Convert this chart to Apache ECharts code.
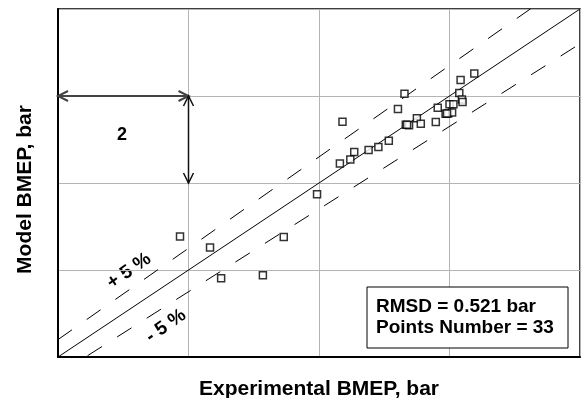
<!DOCTYPE html>
<html>
<head>
<meta charset="utf-8">
<script src="https://cdn.jsdelivr.net/npm/echarts@6/dist/echarts.min.js"></script>
<style>
  html, body { margin: 0; padding: 0; background: #fff; }
  #chart { width: 582px; height: 398px; }
</style>
</head>
<body>
<div id="chart"></div>
<script>
// measured vs modelled BMEP, bar
var expBmep = [14.38, 14.17, 14.15, 14.19, 14.20, 13.31, 13.21, 13.82, 14.00, 14.06, 13.94,
  13.98, 14.04, 13.79, 13.50, 13.56, 13.33, 13.38, 12.36, 13.07, 12.91, 12.76, 12.54,
  12.48, 12.32, 11.97, 9.87, 10.33, 10.50, 11.14, 11.46, 13.35, 13.96]
var modelBmep = [14.52, 14.37, 14.07, 13.92, 13.86, 14.05, 13.70, 13.73, 13.81, 13.81, 13.59,
  13.60, 13.62, 13.40, 13.49, 13.36, 13.34, 13.33, 13.41, 12.97, 12.83, 12.76, 12.71,
  12.54, 12.45, 11.74, 10.77, 10.52, 9.81, 9.88, 10.76, 13.34, 13.60]

var axisMin = 8
var axisMax = 16
var gridStep = 2
var tolerance = 0.05
var rmsd = 0.521

// scale arrows (x1, y1, x2, y2)
var arrows = [[8, 14, 10, 14], [10, 14, 10, 12]]
var arrowColors = ['#444444', '#111111']
var arrowWidths = [2, 1.5]

var font = '"Liberation Sans", Arial, sans-serif'

var points = expBmep.map(function (x, i) { return [x, modelBmep[i]] })

function arrowHead(tip, from, len, half) {
  var dx = tip[0] - from[0]
  var dy = tip[1] - from[1]
  var d = Math.sqrt(dx * dx + dy * dy) || 1
  var ux = dx / d, uy = dy / d
  var bx = tip[0] - ux * len, by = tip[1] - uy * len
  return [[bx - uy * half, by + ux * half], tip, [bx + uy * half, by - ux * half]]
}

var chart = echarts.init(document.getElementById('chart'))

var axisCommon = {
  type: 'value',
  min: axisMin,
  max: axisMax,
  interval: gridStep,
  nameLocation: 'middle',
  nameTextStyle: { color: '#000', fontFamily: font, fontWeight: 'bold', fontSize: 21 },
  axisLine: { show: true, onZero: false, lineStyle: { color: '#000', width: 2 } },
  axisTick: { show: false },
  axisLabel: { show: false },
  splitLine: { show: true, lineStyle: { color: '#b4b4b4', width: 1 } }
}

chart.setOption({
  animation: false,
  backgroundColor: '#fff',
  grid: {
    left: 58,
    right: 2,
    top: 9,
    bottom: 41,
    outerBoundsMode: 'none',
    show: true,
    borderColor: '#000',
    borderWidth: 1.5
  },
  xAxis: Object.assign({}, axisCommon, { name: 'Experimental BMEP, bar', nameGap: 22 }),
  yAxis: Object.assign({}, axisCommon, {
    name: 'Model BMEP, bar',
    nameGap: 22,
    nameTextStyle: Object.assign({}, axisCommon.nameTextStyle, { padding: [0, 13, 0, 0] })
  }),
  series: [
    {
      type: 'line',
      data: [[axisMin, axisMin], [axisMax, axisMax]],
      symbol: 'none',
      silent: true,
      lineStyle: { color: '#000', width: 1 }
    },
    {
      type: 'line',
      data: [[axisMin, axisMin * (1 + tolerance)], [axisMax, axisMax * (1 + tolerance)]],
      symbol: 'none',
      silent: true,
      clip: true,
      lineStyle: { color: '#000', width: 1, type: [17, 18] }
    },
    {
      type: 'line',
      data: [[axisMin, axisMin * (1 - tolerance)], [axisMax, axisMax * (1 - tolerance)]],
      symbol: 'none',
      silent: true,
      clip: true,
      lineStyle: { color: '#000', width: 1, type: [17, 18] }
    },
    {
      type: 'custom',
      silent: true,
      data: arrows,
      renderItem: function (params, api) {
        var p1 = api.coord([api.value(0), api.value(1)])
        var p2 = api.coord([api.value(2), api.value(3)])
        var style = { stroke: arrowColors[params.dataIndex], lineWidth: arrowWidths[params.dataIndex], fill: null }
        return {
          type: 'group',
          children: [
            { type: 'line', shape: { x1: p1[0], y1: p1[1], x2: p2[0], y2: p2[1] }, style: style },
            { type: 'polyline', shape: { points: arrowHead(p1, p2, 10, 5) }, style: style },
            { type: 'polyline', shape: { points: arrowHead(p2, p1, 10, 5) }, style: style }
          ]
        }
      }
    },
    {
      type: 'scatter',
      data: points,
      symbol: 'rect',
      symbolSize: 7,
      z: 5,
      itemStyle: { color: '#fff', borderColor: '#000', borderWidth: 1.5 }
    }
  ],
  graphic: [
    {
      type: 'text', x: 122, y: 135,
      style: { text: String(gridStep), font: 'bold 18px ' + font, fill: '#000', align: 'center', verticalAlign: 'middle' }
    },
    {
      type: 'text', x: 129, y: 271, rotation: 35 * Math.PI / 180,
      style: { text: '+ 5 %', font: 'bold 19px ' + font, fill: '#000', align: 'center', verticalAlign: 'middle' }
    },
    {
      type: 'text', x: 166, y: 326, rotation: 35 * Math.PI / 180,
      style: { text: '- 5 %', font: 'bold 19px ' + font, fill: '#000', align: 'center', verticalAlign: 'middle' }
    },
    {
      type: 'rect', z: 10,
      shape: { x: 367, y: 287, width: 201, height: 61 },
      style: { fill: '#fff', stroke: '#000', lineWidth: 1 }
    },
    {
      type: 'text', z: 11, x: 376, y: 307,
      style: { text: 'RMSD = ' + rmsd + ' bar', font: 'bold 19px ' + font, fill: '#000', verticalAlign: 'middle' }
    },
    {
      type: 'text', z: 11, x: 376, y: 328,
      style: { text: 'Points Number = ' + points.length, font: 'bold 19px ' + font, fill: '#000', verticalAlign: 'middle' }
    }
  ]
})
</script>
</body>
</html>
